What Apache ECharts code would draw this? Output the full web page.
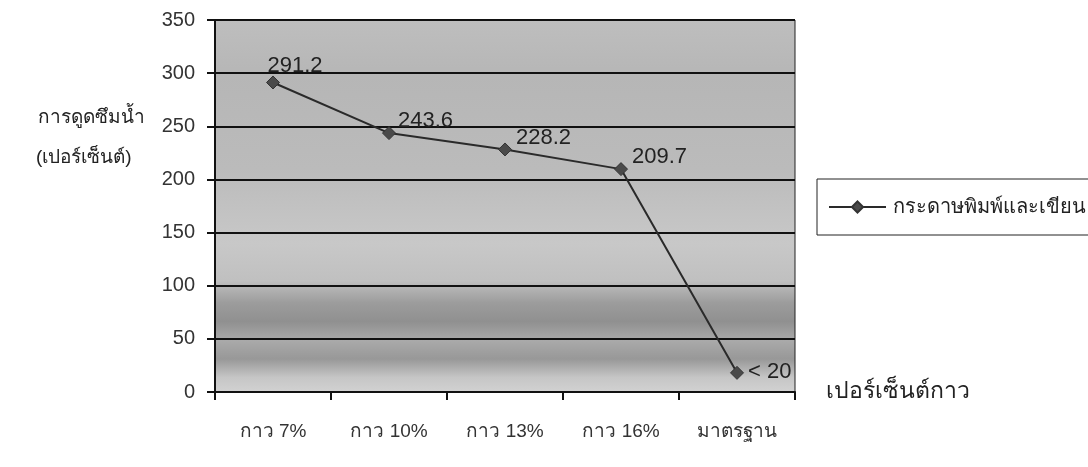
<!DOCTYPE html>
<html>
<head>
<meta charset="utf-8">
<title>การดูดซึมน้ำ</title>
<script src="https://cdn.jsdelivr.net/npm/echarts@6/dist/echarts.min.js"></script>
<style>
  html, body { margin: 0; padding: 0; background: #ffffff; }
  #chart { width: 1088px; height: 467px; }
</style>
</head>
<body>
<div id="chart"></div>
<script>
// Water absorption (%) by glue percentage
const categories = ['กาว 7%', 'กาว 10%', 'กาว 13%', 'กาว 16%', 'มาตรฐาน'];
const absorption = [291.2, 243.6, 228.2, 209.7, 18];
const pointLabels = ['291.2', '243.6', '228.2', '209.7', '< 20'];
const yTicks = [0, 50, 100, 150, 200, 250, 300, 350];
const seriesName = 'กระดาษพิมพ์และเขียน';

const FONT = '"Liberation Sans", Arial, "Noto Sans", sans-serif';

const chart = echarts.init(document.getElementById('chart'), null, { renderer: 'canvas' });

const plotFill = new echarts.graphic.LinearGradient(0, 0, 0, 1, [
  { offset: 0.00, color: '#bebebe' },
  { offset: 0.15, color: '#b6b6b6' },
  { offset: 0.40, color: '#bbbbbb' },
  { offset: 0.60, color: '#c8c8c8' },
  { offset: 0.70, color: '#c0c0c0' },
  { offset: 0.76, color: '#9c9c9c' },
  { offset: 0.81, color: '#909090' },
  { offset: 0.86, color: '#aaaaaa' },
  { offset: 0.91, color: '#989898' },
  { offset: 0.96, color: '#c6c6c6' },
  { offset: 1.00, color: '#d2d2d2' }
]);

const labelPlacement = [
  { position: 'top', distance: 2, offset: [22, 3] },
  { position: 'right', distance: 2, offset: [0, -12] },
  { position: 'right', distance: 4, offset: [0, -12] },
  { position: 'right', distance: 4, offset: [0, -12] },
  { position: 'right', distance: 4, offset: [0, -1] }
];

const seriesData = absorption.map((v, i) => ({
  value: v,
  label: Object.assign({ formatter: pointLabels[i] }, labelPlacement[i])
}));

chart.setOption({
  animation: false,
  backgroundColor: '#ffffff',
  textStyle: { fontFamily: FONT },
  grid: {
    left: 215,
    right: 293,
    top: 20,
    bottom: 75,
    show: true,
    backgroundColor: plotFill,
    borderColor: '#222222',
    borderWidth: 1
  },
  legend: {
    left: 817,
    top: 179,
    orient: 'vertical',
    padding: [18, 20, 18, 11],
    borderColor: '#222222',
    borderWidth: 1,
    itemWidth: 57,
    itemHeight: 14,
    itemGap: 0,
    textStyle: { fontSize: 20, color: '#222222', fontFamily: FONT, padding: [0, 0, 0, 2] },
    data: [seriesName]
  },
  xAxis: {
    type: 'category',
    data: categories,
    boundaryGap: true,
    name: 'เปอร์เซ็นต์กาว',
    nameLocation: 'end',
    nameGap: 31,
    nameTextStyle: { fontSize: 23, color: '#222222', verticalAlign: 'middle' },
    axisLine: { show: true, lineStyle: { color: '#111111', width: 2 } },
    axisTick: { show: true, alignWithLabel: false, length: 8, lineStyle: { color: '#111111', width: 2 } },
    axisLabel: { margin: 30, fontSize: 19, color: '#333333' },
    splitLine: { show: false }
  },
  yAxis: {
    type: 'value',
    min: yTicks[0],
    max: yTicks[yTicks.length - 1],
    interval: yTicks[1] - yTicks[0],
    axisLine: { show: true, lineStyle: { color: '#111111', width: 2 } },
    axisTick: { show: true, inside: false, length: 8, lineStyle: { color: '#111111', width: 2 } },
    axisLabel: { margin: 20, fontSize: 20, color: '#333333' },
    splitLine: { show: true, lineStyle: { color: '#111111', width: 2 } }
  },
  graphic: [
    {
      type: 'text',
      left: 38,
      top: 108,
      style: { text: 'การดูดซึมน้ำ', fontSize: 19, fill: '#222222', fontFamily: FONT }
    },
    {
      type: 'text',
      left: 36,
      top: 148,
      style: { text: '(เปอร์เซ็นต์)', fontSize: 19, fill: '#222222', fontFamily: FONT }
    }
  ],
  series: [
    {
      name: seriesName,
      type: 'line',
      data: seriesData,
      symbol: 'diamond',
      symbolSize: 13,
      itemStyle: { color: '#4a4a4a', borderColor: '#333333', borderWidth: 1 },
      lineStyle: { color: '#2a2a2a', width: 2 },
      label: {
        show: true,
        fontSize: 22,
        color: '#222222',
        fontFamily: FONT
      },
      z: 3
    }
  ]
});
</script>
</body>
</html>
